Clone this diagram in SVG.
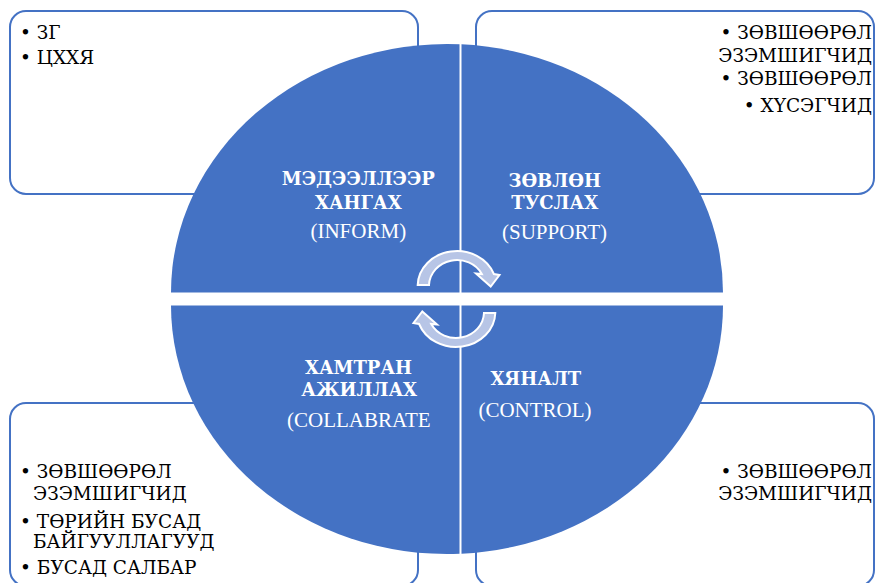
<svg xmlns="http://www.w3.org/2000/svg" xmlns:xlink="http://www.w3.org/1999/xlink" width="876" height="583" viewBox="0 0 876 583">
<style>
.box{fill:#fff;stroke:#4472C4;stroke-width:2}
.q{fill:#4472C4}
.qt{font-family:"DejaVu Serif","Liberation Serif",serif;font-size:18px;fill:#fff;text-anchor:middle;font-weight:bold}
.ql{font-family:"Liberation Serif","Times New Roman",serif;font-size:21px;fill:#fff;text-anchor:middle}
.bt{font-family:"DejaVu Serif","Liberation Serif",serif;font-size:18.5px;fill:#000}
.r{text-anchor:end}
.arr{fill:#B7C5E6;stroke:#fff;stroke-width:2;stroke-linejoin:miter}
</style>
<defs>
<path id="carrow" d="M417.7,285 A39.3,35 0 0 1 493.9,274 L499.5,275 L490.7,286.5 L476,273.5 L481.8,274 A28,26 0 0 0 429,285 Z"/>
</defs>
<rect width="876" height="583" fill="#fff"/>
<g id="box-top-left">
<rect class="box" x="10" y="11" width="408" height="183" rx="16"/>
<text class="bt" x="20" y="38.5">• ЗГ</text>
<text class="bt" x="20" y="64">• ЦХХЯ</text>
</g>
<g id="box-top-right">
<rect class="box" x="476" y="11" width="398" height="183" rx="16"/>
<text class="bt r" x="872" y="38.5">• ЗӨВШӨӨРӨЛ</text>
<text class="bt r" x="872" y="61.7">ЭЗЭМШИГЧИД</text>
<text class="bt r" x="872" y="85">• ЗӨВШӨӨРӨЛ</text>
<text class="bt r" x="872" y="111.5">• ХҮСЭГЧИД</text>
</g>
<g id="box-bottom-left">
<rect class="box" x="10" y="403" width="408" height="183" rx="16"/>
<text class="bt" x="20" y="478.3">• ЗӨВШӨӨРӨЛ</text>
<text class="bt" x="33" y="500">ЭЗЭМШИГЧИД</text>
<text class="bt" x="20" y="527.7">• ТӨРИЙН БУСАД</text>
<text class="bt" x="33" y="548.3">БАЙГУУЛЛАГУУД</text>
<text class="bt" x="20" y="574.3">• БУСАД САЛБАР</text>
</g>
<g id="box-bottom-right">
<rect class="box" x="476" y="403" width="398" height="183" rx="16"/>
<text class="bt r" x="872" y="478.3">• ЗӨВШӨӨРӨЛ</text>
<text class="bt r" x="872" y="500">ЭЗЭМШИГЧИД</text>
</g>
<g id="q-inform">
<path class="q" d="M459.5,292.5 H171 A276,248.5 0 0 1 459.5,44.26 Z"/>
<text class="qt" x="358.3" y="185">МЭДЭЭЛЛЭЭР</text>
<text class="qt" x="358.3" y="209">ХАНГАХ</text>
<text class="ql" x="358.3" y="238.3">(INFORM)</text>
</g>
<g id="q-support">
<path class="q" d="M461.5,44.34 A276,248.5 0 0 1 723,292.5 H461.5 Z"/>
<text class="qt" x="554.7" y="186.7">ЗӨВЛӨН</text>
<text class="qt" x="554.7" y="209.3">ТУСЛАХ</text>
<text class="ql" x="554.5" y="239.3">(SUPPORT)</text>
</g>
<g id="q-control">
<path class="q" d="M723,305.5 A276,248.5 0 0 1 461.5,553.66 V305.5 Z"/>
<text class="qt" x="535.8" y="385">ХЯНАЛТ</text>
<text class="ql" x="535" y="417.3">(CONTROL)</text>
</g>
<g id="q-collaborate">
<path class="q" d="M459.5,553.75 A276,248.5 0 0 1 171,305.5 H459.5 Z"/>
<text class="qt" x="358.5" y="374">ХАМТРАН</text>
<text class="qt" x="359.2" y="395.7">АЖИЛЛАХ</text>
<text class="ql" x="358.8" y="426.7">(COLLABRATE</text>
</g>
<g id="connectors">
<use xlink:href="#carrow" class="arr"/>
<use xlink:href="#carrow" class="arr" transform="rotate(180 456.5 299)"/>
</g>
</svg>
